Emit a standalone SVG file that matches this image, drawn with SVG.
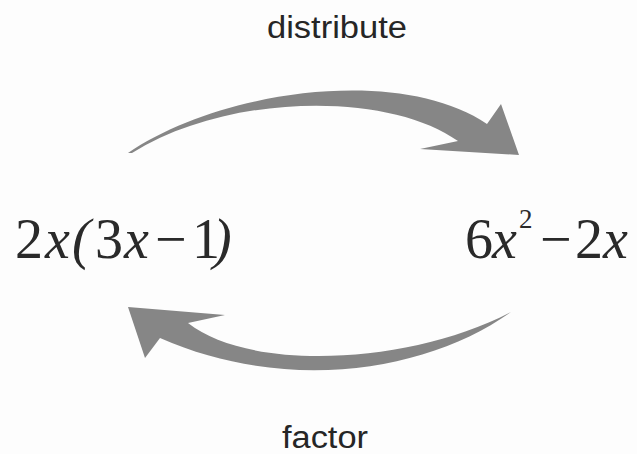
<svg xmlns="http://www.w3.org/2000/svg" width="637" height="454" viewBox="0 0 637 454">
<style>
.lbl{font-family:"Liberation Sans",Arial,sans-serif;font-size:31px;fill:#262626}
.math{font-family:"Liberation Serif","Times New Roman",serif;font-size:56px;fill:#2a2a2a}
.it{font-style:italic}
.arrow{fill:#868686}
</style>
<rect width="637" height="454" fill="#fdfdfd"/>
<g id="connectors">
<path id="distribute-arrow" class="arrow" d="M128,153 C220,90 400,65 487,124 L501,104 L519,155 L420,149 L458,141 C390,92 230,92 132,153 Z"/>
<path id="factor-arrow" class="arrow" d="M511,312 C430,370 290,395 160,338 L145,358 L128,307 L225,315 L188,323 C250,372 410,365 511,312 Z"/>
</g>
<g id="label-distribute"><text class="lbl" x="267" y="38" textLength="140" lengthAdjust="spacingAndGlyphs">distribute</text></g>
<g id="label-factor"><text class="lbl" x="282" y="448" textLength="86" lengthAdjust="spacingAndGlyphs">factor</text></g>
<g id="node-factored">
<text class="math" y="258"><tspan x="15">2</tspan><tspan class="it" x="45">x</tspan><tspan class="it" x="72">(</tspan><tspan x="95">3</tspan><tspan class="it" x="124">x</tspan><tspan x="155">−</tspan><tspan x="192">1</tspan><tspan class="it" x="213">)</tspan></text>
</g>
<g id="node-expanded">
<text class="math" y="258"><tspan x="465">6</tspan><tspan class="it" x="492">x</tspan><tspan x="519" y="228" font-size="27">2</tspan><tspan x="540" y="258">−</tspan><tspan x="575">2</tspan><tspan class="it" x="603">x</tspan></text>
</g>
</svg>
